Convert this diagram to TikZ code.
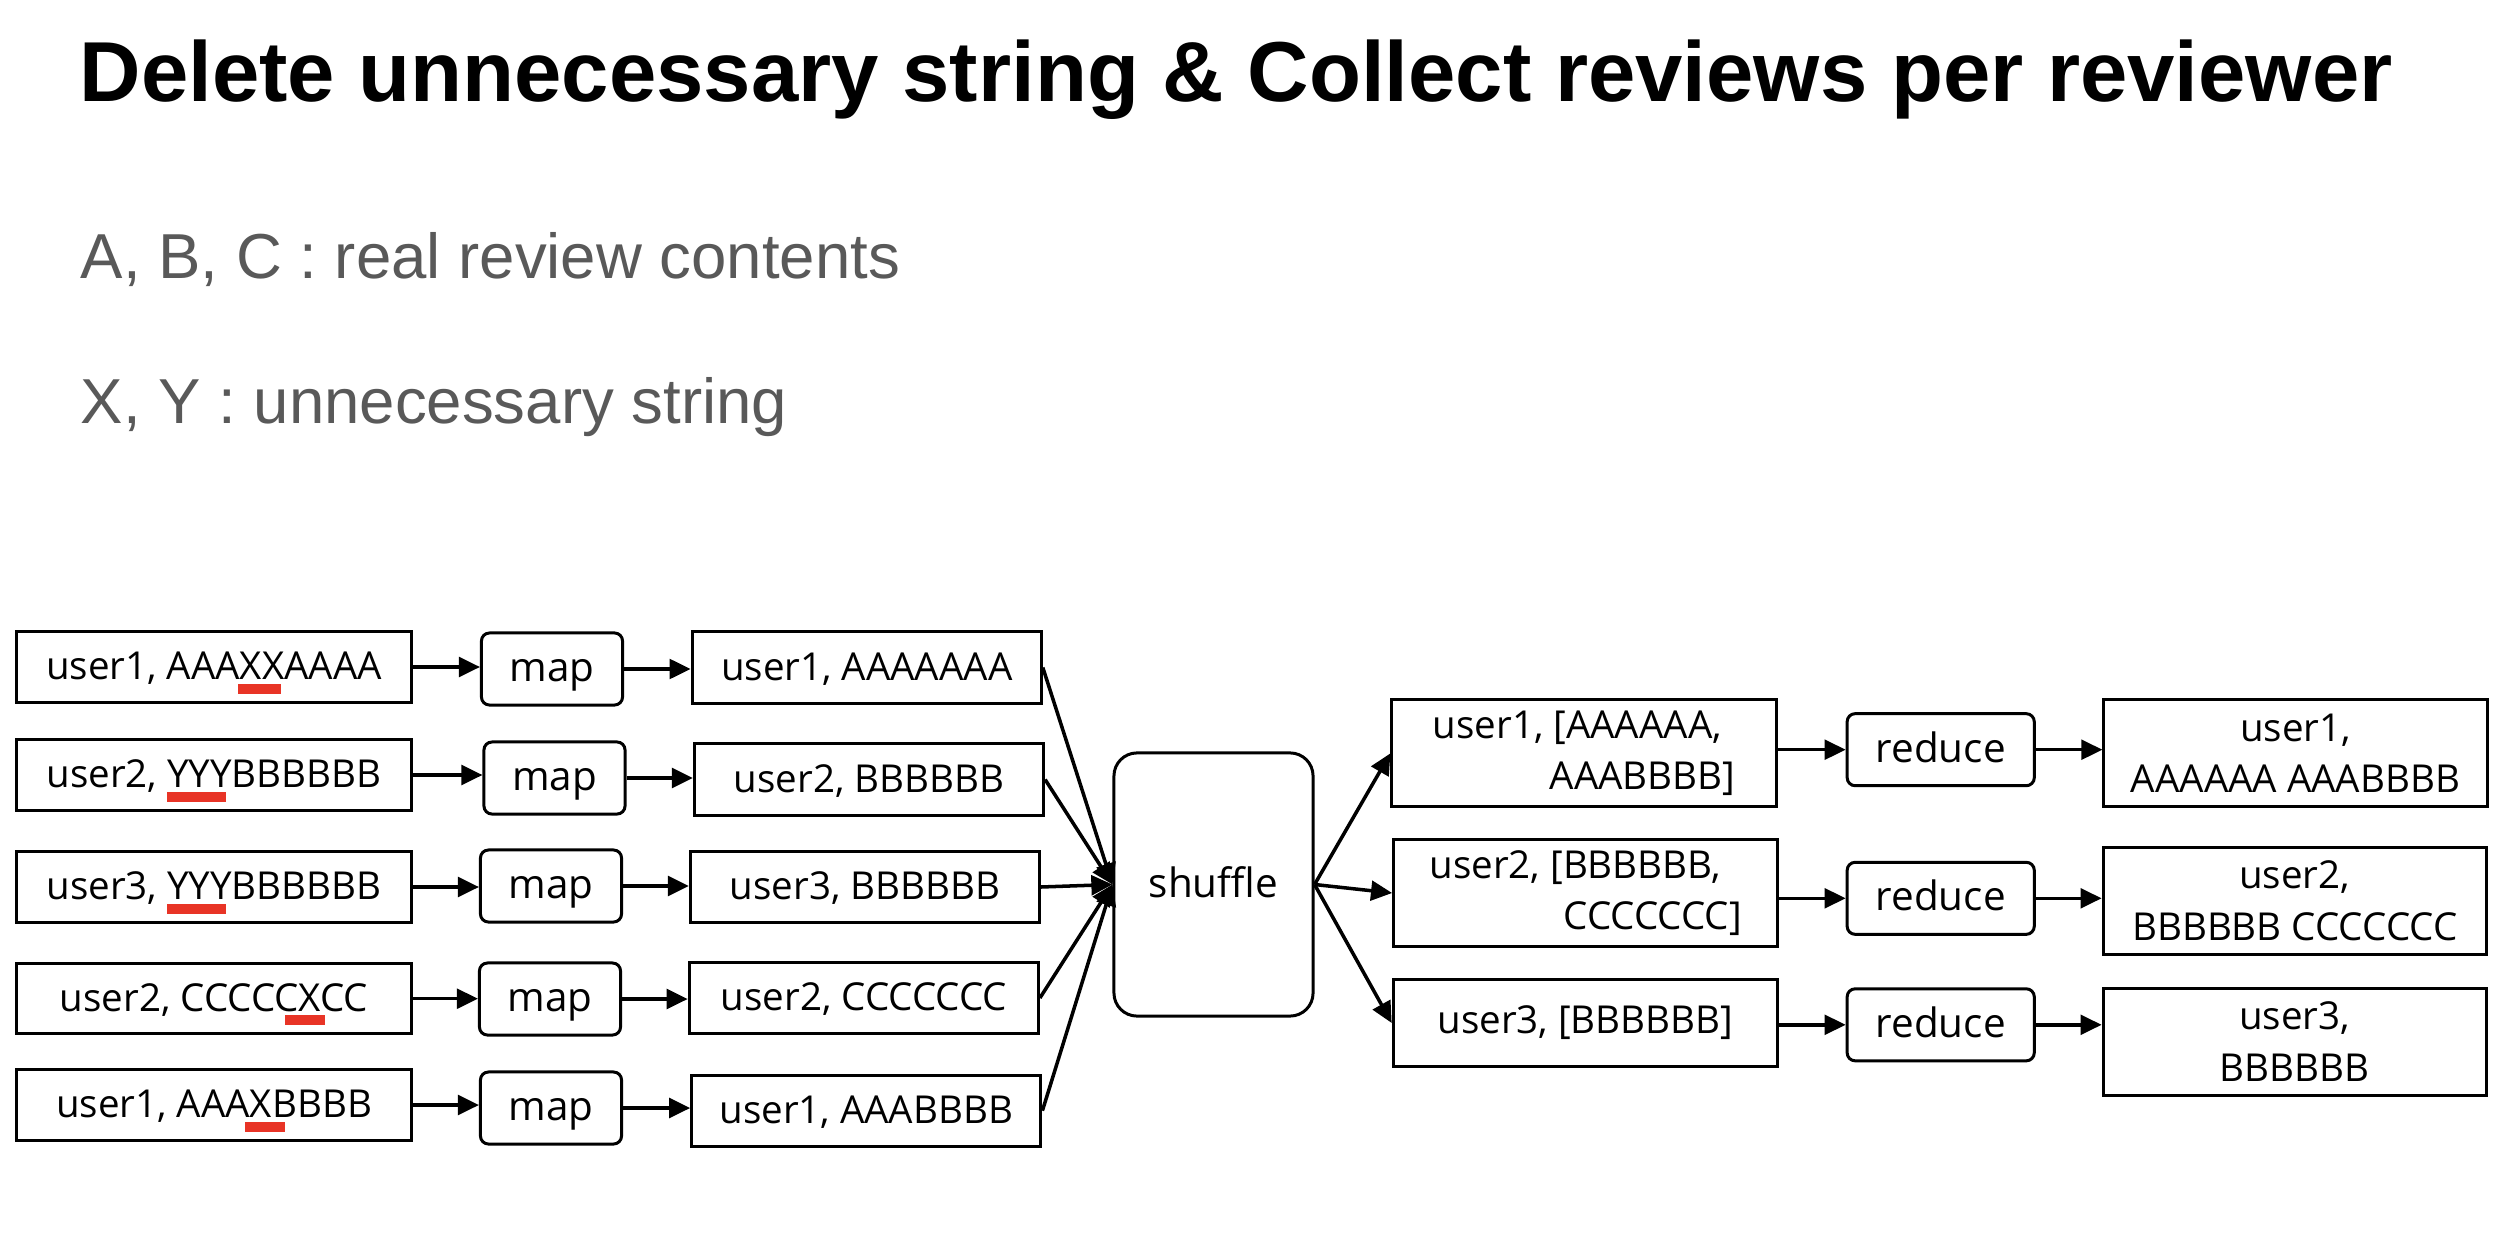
\documentclass[tikz,border=0pt]{standalone}
\usepackage{fontspec}
\setmainfont{Liberation Sans}
\newfontfamily\boxfamily{Open Sans}
\usetikzlibrary{arrows.meta}
\definecolor{markred}{RGB}{232,52,38}
\definecolor{legendgray}{RGB}{89,89,89}
\newcommand\boxtext{\boxfamily\fontsize{10.95}{14.7}\selectfont}
\newcommand\opfont{\boxfamily\fontsize{11.5}{14}\selectfont}
% red bar under the characters that get removed: shift, bar width, text
\newcommand\cutmark[3]{\rlap{\hspace*{#1}\textcolor{markred}{\rule[-0.36em]{#2}{0.26em}}}#3}

\begin{document}
\begin{tikzpicture}[x=0.01cm, y=-0.01cm,
  every node/.style={inner sep=0pt},
  box/.style={draw, line width=0.85pt, font=\boxtext},
  oneline/.style={text height=0.72em, text depth=0pt},
  inbox/.style={box, oneline, minimum width=3.94cm, minimum height=0.70cm},
  opbox/.style={draw, line width=0.85pt, oneline, rounded corners=0.08cm, minimum height=0.72cm, font=\opfont},
  mapbox/.style={opbox, minimum width=1.41cm},
  midbox/.style={box, oneline, minimum width=3.49cm, minimum height=0.71cm},
  shufbox/.style={draw, line width=0.85pt, oneline, rounded corners=0.23cm, minimum width=1.99cm, minimum height=2.63cm, font=\opfont},
  grpbox/.style={box, minimum width=3.84cm, align=right},
  redbox/.style={opbox, minimum width=1.87cm},
  outbox/.style={box, minimum width=3.83cm, minimum height=1.07cm, align=center},
  legend/.style={anchor=base west, text=legendgray, font=\fontsize{18.07}{22}\selectfont},
  flow/.style={-{Triangle[length=6pt,width=5.6pt]}, line width=1pt},
]
\useasboundingbox (0,0) rectangle (2516,1234);

% heading and legend
\node[anchor=base west, font=\fontsize{24.2}{28}\selectfont\bfseries] (title) at (79,102)
  {Delete unnecessary string \& Collect reviews per reviewer};
\node[legend] (legendA) at (80,279) {A, B, C : real review contents};
\node[legend] (legendX) at (80,424) {X, Y : unnecessary string};

% raw records
\node[inbox] (in1) at (214,667)   {user1, AAA\cutmark{-0.05em}{1.12em}{XX}AAAA};
\node[inbox] (in2) at (214,775)   {user2, \cutmark{0em}{1.53em}{YYY}BBBBBB};
\node[inbox] (in3) at (214,887)   {user3, \cutmark{0em}{1.53em}{YYY}BBBBBB};
\node[inbox] (in4) at (214,998.7) {user2, CCCCC\cutmark{-0.36em}{1.04em}{X}CC};
\node[inbox] (in5) at (214,1105)  {user1, AAA\cutmark{-0.13em}{1.04em}{X}BBBB};

% map stage
\node[mapbox] (map1) at (552,669)   {map};
\node[mapbox] (map2) at (554.5,778) {map};
\node[mapbox] (map3) at (551,886)   {map};
\node[mapbox] (map4) at (550,999)   {map};
\node[mapbox] (map5) at (551,1108)  {map};

% cleaned records
\node[midbox] (mid1) at (866.7,667.5) {user1, AAAAAAA};
\node[midbox] (mid2) at (869,779.5)   {user2, BBBBBB};
\node[midbox] (mid3) at (865,887)     {user3, BBBBBB};
\node[midbox] (mid4) at (863.8,998)   {user2, CCCCCCC};
\node[midbox] (mid5) at (866.3,1110.7){user1, AAABBBB};

% shuffle stage
\node[shufbox] (shuffle) at (1213.5,884.5) {shuffle};

% grouped records
\node[grpbox, minimum height=1.07cm] (grp1) at (1584,753.3)
  {user1, [AAAAAA,\kern0.35em\\AAABBBB]};
\node[grpbox, minimum height=1.06cm] (grp2) at (1585.7,893)
  {user2, [BBBBBB,\kern0.55em\\CCCCCCC]};
\node[grpbox, minimum height=0.87cm] (grp3) at (1585.3,1023)
  {user3, [BBBBBB]};

% reduce stage
\node[redbox] (red1) at (1940.7,749.7) {reduce};
\node[redbox] (red2) at (1940.7,898.3) {reduce};
\node[redbox] (red3) at (1940.7,1024.8){reduce};

% results per reviewer
\node[outbox] (out1) at (2295.5,753.3) {user1,\\AAAAAA AAABBBB};
\node[outbox] (out2) at (2294.7,900.7) {user2,\\BBBBBB CCCCCCC};
\node[outbox] (out3) at (2294.7,1041.7){user3,\\BBBBBB};

% connectors
\foreach \k in {1,...,5} {
  \draw[flow] (in\k.east) -- (in\k.east -| map\k.west);
  \draw[flow] (map\k.east) -- (map\k.east -| mid\k.west);
  \draw[flow] (mid\k.east) -- (shuffle.west);
}
\foreach \k in {1,2,3} {
  \draw[flow] (shuffle.east) -- (grp\k.west);
  \draw[flow] (grp\k.east |- red\k.west) -- (red\k.west);
  \draw[flow] (red\k.east) -- (red\k.east -| out\k.west);
}
\end{tikzpicture}
\end{document}
